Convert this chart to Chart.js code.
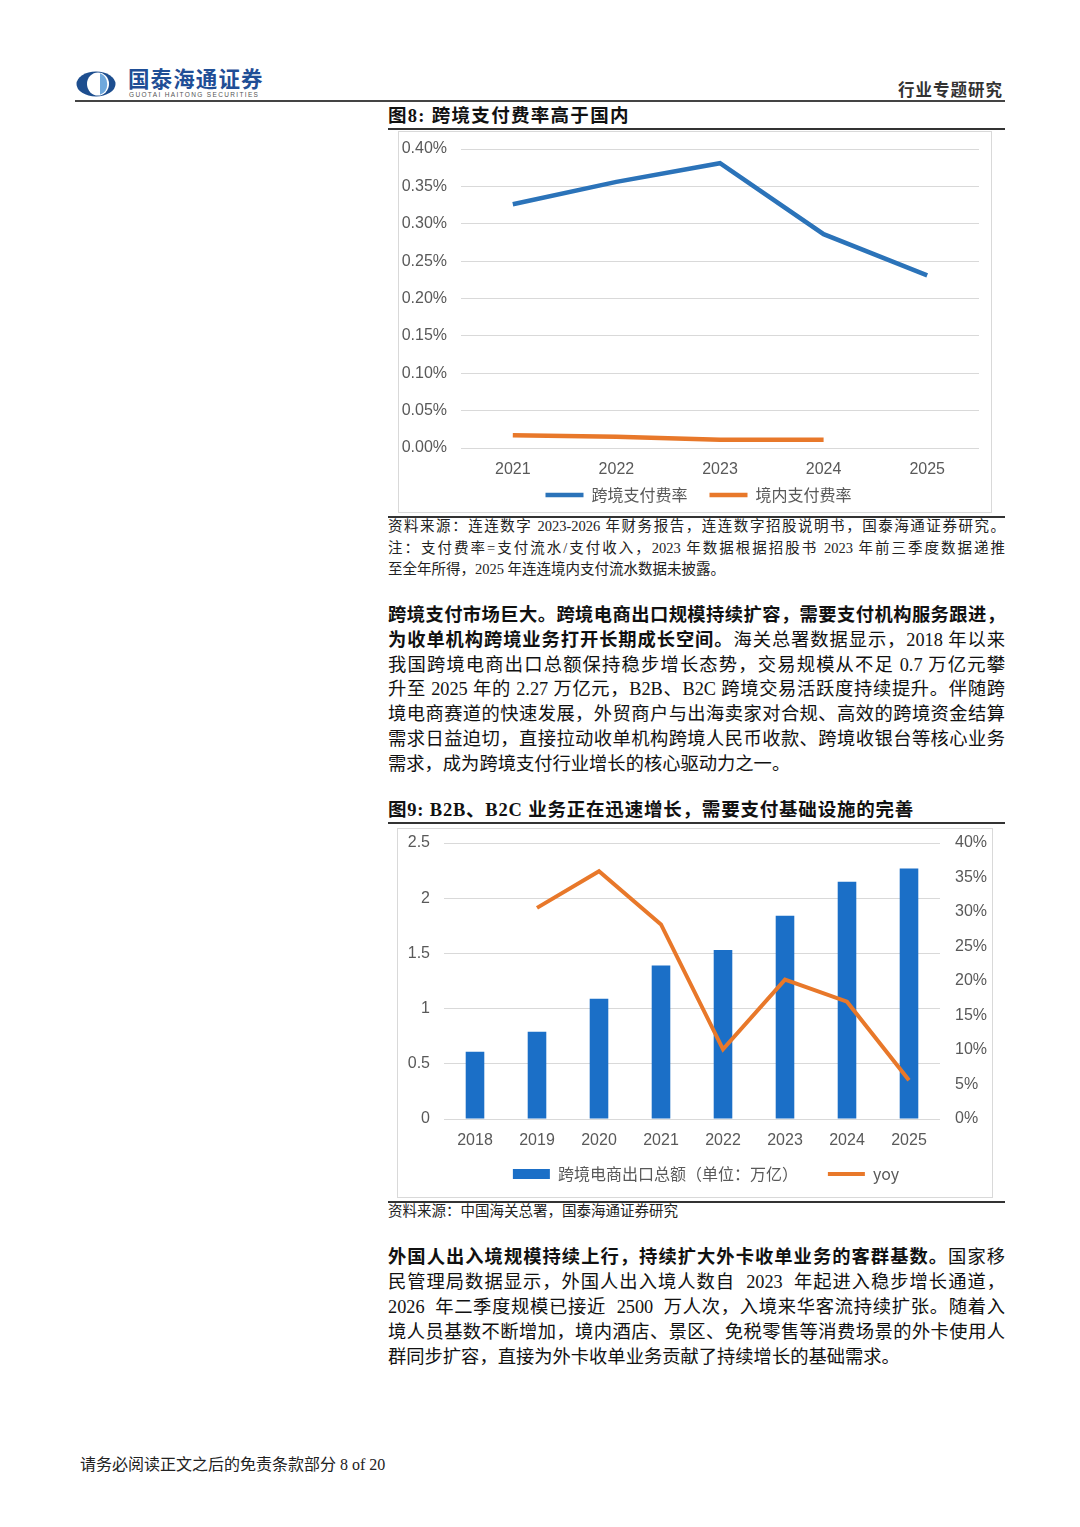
<!DOCTYPE html>
<html lang="zh-CN">
<head>
<meta charset="utf-8">
<title>跨境支付</title>
<script src="https://cdn.jsdelivr.net/npm/chart.js@4.4.1/dist/chart.umd.min.js"></script>
<style>
  html,body{margin:0;padding:0;background:#fff;}
  body{width:1080px;height:1527px;position:relative;overflow:hidden;
       font-family:"Liberation Serif","Noto Sans CJK SC",serif;color:#111;}
  .abs{position:absolute;}
  .rule{position:absolute;background:#333;}
  .ttl{position:absolute;left:388px;font-weight:bold;font-size:18.5px;letter-spacing:1.3px;line-height:22px;white-space:nowrap;color:#111;}
  .src{position:absolute;left:388px;width:617px;font-size:14.5px;line-height:18px;color:#222;
       text-align:justify;text-align-last:justify;}
  .src.last{text-align-last:left;}
  .p{position:absolute;left:388px;width:617px;font-size:18.3px;line-height:22px;color:#111;
     text-align:justify;text-align-last:justify;}
  .p.last{text-align-last:left;}
  .box{position:absolute;border:1px solid #d9d9d9;box-sizing:border-box;}
  .cwrap{position:absolute;}
</style>
</head>
<body>
<!-- header -->
<svg class="abs" style="left:76px;top:71px" width="40" height="26" viewBox="0 0 40 26">
  <ellipse cx="20" cy="13" rx="19.5" ry="12.5" fill="#1d4e8f"/>
  <ellipse cx="22" cy="13" rx="11" ry="11.5" fill="#ffffff"/>
  <path d="M24 2.2 A11 11.5 0 0 1 24 23.8 Z" fill="#6fa8dc"/>
</svg>
<div class="abs" style="left:128px;top:66px;font-family:'Noto Sans CJK SC';font-weight:bold;font-size:21.5px;line-height:24px;color:#1f4e96;letter-spacing:1.1px;">国泰海通证券</div>
<div class="abs" style="left:129px;top:91px;font-family:'Liberation Sans';font-size:6.5px;line-height:8px;color:#555;letter-spacing:1.35px;">GUOTAI HAITONG SECURITIES</div>
<div class="abs" style="left:898px;top:78px;font-family:'Noto Sans CJK SC';font-weight:bold;font-size:16.5px;line-height:22px;color:#333;letter-spacing:1px;">行业专题研究</div>
<div class="rule" style="left:75px;top:100px;width:930px;height:2px;background:#444;"></div>

<!-- figure 8 -->
<div class="ttl" style="top:105px;">图8:&nbsp;跨境支付费率高于国内</div>
<div class="rule" style="left:388px;top:128px;width:617px;height:1.5px;"></div>
<div class="box" style="left:398px;top:131px;width:594px;height:382px;"></div>
<div class="cwrap" style="left:398px;top:131px;width:594px;height:382px;"><canvas id="c1"></canvas></div>
<div class="rule" style="left:388px;top:516px;width:617px;height:1.5px;"></div>
<div class="src" style="top:517px;">资料来源：连连数字 2023-2026 年财务报告，连连数字招股说明书，国泰海通证券研究。</div>
<div class="src" style="top:539px;">注：支付费率=支付流水/支付收入，2023 年数据根据招股书 2023 年前三季度数据递推</div>
<div class="src last" style="top:560px;">至全年所得，2025 年连连境内支付流水数据未披露。</div>

<!-- paragraph 1 -->
<div class="p" style="top:604px;"><b>跨境支付市场巨大。跨境电商出口规模持续扩容，需要支付机构服务跟进，</b></div>
<div class="p" style="top:629px;"><b>为收单机构跨境业务打开长期成长空间。</b>海关总署数据显示，2018 年以来</div>
<div class="p" style="top:654px;">我国跨境电商出口总额保持稳步增长态势，交易规模从不足 0.7 万亿元攀</div>
<div class="p" style="top:678px;">升至 2025 年的 2.27 万亿元，B2B、B2C 跨境交易活跃度持续提升。伴随跨</div>
<div class="p" style="top:703px;">境电商赛道的快速发展，外贸商户与出海卖家对合规、高效的跨境资金结算</div>
<div class="p" style="top:728px;">需求日益迫切，直接拉动收单机构跨境人民币收款、跨境收银台等核心业务</div>
<div class="p last" style="top:753px;">需求，成为跨境支付行业增长的核心驱动力之一。</div>

<!-- figure 9 -->
<div class="ttl" style="top:799px;letter-spacing:0.8px;">图9:&nbsp;B2B、B2C 业务正在迅速增长，需要支付基础设施的完善</div>
<div class="rule" style="left:388px;top:822px;width:617px;height:1.5px;"></div>
<div class="box" style="left:397px;top:828px;width:596px;height:370px;"></div>
<div class="cwrap" style="left:397px;top:828px;width:596px;height:370px;"><canvas id="c2"></canvas></div>
<div class="rule" style="left:388px;top:1201px;width:617px;height:1.5px;"></div>
<div class="src last" style="top:1202px;">资料来源：中国海关总署，国泰海通证券研究</div>

<!-- paragraph 2 -->
<div class="p" style="top:1246px;"><b>外国人出入境规模持续上行，持续扩大外卡收单业务的客群基数。</b>国家移</div>
<div class="p" style="top:1271px;">民管理局数据显示，外国人出入境人数自&nbsp; 2023&nbsp; 年起进入稳步增长通道，</div>
<div class="p" style="top:1296px;">2026&nbsp; 年二季度规模已接近&nbsp; 2500&nbsp; 万人次，入境来华客流持续扩张。随着入</div>
<div class="p" style="top:1321px;">境人员基数不断增加，境内酒店、景区、免税零售等消费场景的外卡使用人</div>
<div class="p last" style="top:1346px;">群同步扩容，直接为外卡收单业务贡献了持续增长的基础需求。</div>

<!-- footer -->
<div class="abs" style="left:80px;top:1455px;font-size:16px;line-height:20px;color:#222;">请务必阅读正文之后的免责条款部分 8 of 20</div>

<script>
// ---------- data: figure 8 ----------
const feeYears = ['2021', '2022', '2023', '2024', '2025'];
const crossBorderFeeRate = [0.326, 0.356, 0.381, 0.286, 0.231];   // %
const domesticFeeRate    = [0.017, 0.015, 0.011, 0.011, null];     // %
const feeSeriesNames = ['跨境支付费率', '境内支付费率'];

// ---------- data: figure 9 ----------
const tradeYears = ['2018', '2019', '2020', '2021', '2022', '2023', '2024', '2025'];
const exportTotal = [0.61, 0.79, 1.09, 1.39, 1.53, 1.84, 2.15, 2.27];   // 万亿
const exportYoy   = [null, 30.6, 35.9, 28.2, 10.1, 20.2, 17.0, 5.6];     // %
const tradeSeriesNames = ['跨境电商出口总额（单位：万亿）', 'yoy'];
const leftTickLabels = ['0', '0.5', '1', '1.5', '2', '2.5'];

const BLUE_LINE = '#2b73b9';
const ORANGE = '#e8782a';
const BAR_BLUE = '#1b6fc7';
const TICK = '#595959';
const GRID = '#d9d9d9';
const tickFont = {family: "'Liberation Sans', Arial, sans-serif", size: 16};
const legendFont = {family: "'Noto Sans CJK SC', sans-serif", size: 16};

Chart.defaults.animation = false;

// fix an axis box size, drop its label padding, and let its tick labels draw outside that box
const noPad = s => { s.paddingTop = 0; s.paddingBottom = 0; s.paddingLeft = 0; s.paddingRight = 0;
                     s._computeLabelArea = () => undefined; };
const fixHeight = h => s => { s.height = h; noPad(s); };
const fixWidth  = w => s => { s.width = w;  noPad(s); };

new Chart(document.getElementById('c1'), {
  type: 'line',
  data: {
    labels: feeYears,
    datasets: [
      {label: feeSeriesNames[0], data: crossBorderFeeRate, borderColor: BLUE_LINE, backgroundColor: BLUE_LINE,
       borderWidth: 4.5, pointRadius: 0, tension: 0},
      {label: feeSeriesNames[1], data: domesticFeeRate, borderColor: ORANGE, backgroundColor: ORANGE,
       borderWidth: 4.5, pointRadius: 0, tension: 0}
    ]
  },
  options: {
    responsive: true, maintainAspectRatio: false,
    layout: {padding: {left: 20, right: 13, top: 18, bottom: 0}},
    plugins: {
      tooltip: {enabled: false},
      legend: {
        position: 'bottom',
        labels: {usePointStyle: true, pointStyle: 'line', pointStyleWidth: 38, boxHeight: 4,
                 padding: 22, color: TICK, font: legendFont}
      }
    },
    scales: {
      x: {
        offset: true,
        grid: {display: false, drawTicks: false},
        border: {display: false},
        ticks: {color: TICK, font: tickFont, padding: 12},
        afterFit: fixHeight(17)
      },
      y: {
        min: 0, max: 0.4,
        grid: {color: GRID, lineWidth: 1, drawTicks: false},
        border: {display: false},
        ticks: {stepSize: 0.05, color: TICK, font: tickFont, padding: 14,
                callback: v => v.toFixed(2) + '%'},
        afterFit: fixWidth(43)
      }
    }
  }
});

new Chart(document.getElementById('c2'), {
  type: 'bar',
  data: {
    labels: tradeYears,
    datasets: [
      {type: 'bar', label: tradeSeriesNames[0], data: exportTotal, backgroundColor: BAR_BLUE, borderWidth: 0,
       yAxisID: 'y', order: 2, barPercentage: 1, categoryPercentage: 0.3},
      {type: 'line', label: tradeSeriesNames[1], data: exportYoy, borderColor: ORANGE, backgroundColor: ORANGE,
       borderWidth: 4, pointRadius: 0, tension: 0, yAxisID: 'y1', order: 1}
    ]
  },
  options: {
    responsive: true, maintainAspectRatio: false,
    layout: {padding: {left: 22, right: 0, top: 15, bottom: 6}},
    plugins: {
      tooltip: {enabled: false},
      legend: {
        position: 'bottom',
        labels: {
          usePointStyle: true, pointStyleWidth: 37, boxHeight: 10, padding: 30, color: TICK, font: legendFont,
          sort: (a, b) => a.datasetIndex - b.datasetIndex,
          generateLabels: chart => {
            const items = Chart.defaults.plugins.legend.labels.generateLabels(chart);
            items.forEach(it => {
              if (it.datasetIndex === 0) { it.pointStyle = 'rect'; it.lineWidth = 0; }
              else { it.pointStyle = 'line'; it.lineWidth = 4; }
            });
            return items;
          }
        }
      }
    },
    scales: {
      x: {
        grid: {display: false, drawTicks: false},
        border: {display: false},
        ticks: {color: TICK, font: tickFont, padding: 12},
        afterFit: fixHeight(17)
      },
      y: {
        position: 'left', min: 0, max: 2.5,
        grid: {color: GRID, lineWidth: 1, drawTicks: false},
        border: {display: false},
        ticks: {stepSize: 0.5, color: TICK, font: tickFont, padding: 14,
                callback: (v, i) => leftTickLabels[i]},
        afterFit: fixWidth(25)
      },
      y1: {
        position: 'right', min: 0, max: 40,
        grid: {display: false, drawTicks: false},
        border: {display: false},
        ticks: {stepSize: 5, color: TICK, font: tickFont, padding: 15,
                callback: v => v + '%'},
        afterFit: fixWidth(53)
      }
    }
  }
});
</script>
</body>
</html>
